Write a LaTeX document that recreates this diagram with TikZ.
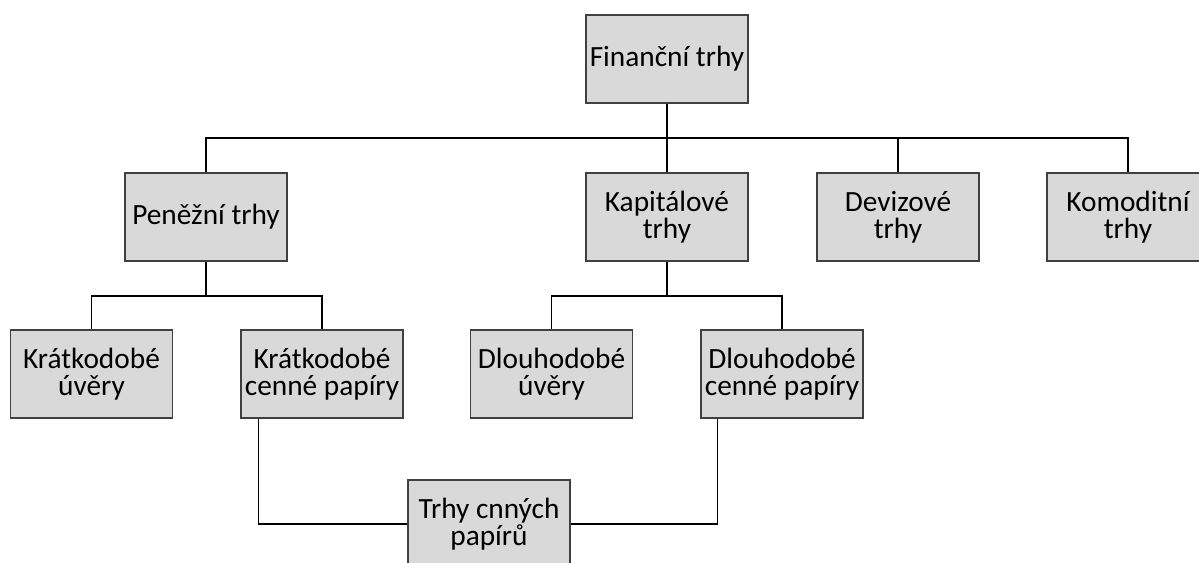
\documentclass[tikz,border=0pt]{standalone}
\usepackage{fontspec}
\setmainfont{Carlito}
\usetikzlibrary{calc}

\tikzset{
  trh/.style={draw=black!75, fill=black!15, line width=0.8pt,
    minimum width=121.5pt, minimum height=66pt, inner sep=1pt,
    align=center, font=\fontsize{22}{20}\selectfont},
  spoj/.style={draw=black, line width=1pt}
}

\begin{document}
\begin{tikzpicture}[x=0.75pt, y=-0.75pt]
            \useasboundingbox (0,0) rectangle (1199,563);
            \node[trh] (fin) at (667,59) {Finanční trhy};
            \node[trh] (pen) at (206,217) {Peněžní trhy};
            \node[trh] (kap) at (667,217) {Kapitálové\\trhy};
            \node[trh] (dev) at (898,217) {Devizové\\trhy};
            \node[trh] (kom) at (1128,217) {Komoditní\\trhy};
            \node[trh] (kuv) at (91.5,374) {Krátkodobé\\úvěry};
            \node[trh] (kcp) at (322,374) {Krátkodobé\\cenné papíry};
            \node[trh] (duv) at (551.5,374) {Dlouhodobé\\úvěry};
            \node[trh] (dcp) at (782,374) {Dlouhodobé\\cenné papíry};
            \node[trh] (tcp) at (489,524) {Trhy cnných\\papírů};
            \coordinate (bus1) at (667,138);
            \coordinate (bus2) at (206,296);
            \coordinate (bus3) at (667,296);
            \draw[spoj] (fin) -- (bus1);
            \draw[spoj] (pen.north) |- (bus1) -| (kom.north);
            \draw[spoj] (kap.north) -- (bus1);
            \draw[spoj] (dev.north) -- (dev.north |- bus1);
            \draw[spoj] (pen.south) -- (bus2);
            \draw[spoj] (kuv.north) |- (bus2) -| (kcp.north);
            \draw[spoj] (kap.south) -- (bus3);
            \draw[spoj] (duv.north) |- (bus3) -| (dcp.north);
            \draw[spoj] ($(kcp.south west)+(18,0)$) |- (tcp.west);
            \draw[spoj] ($(dcp.south west)+(17,0)$) |- (tcp.east);
        \end{tikzpicture}
\end{document}
